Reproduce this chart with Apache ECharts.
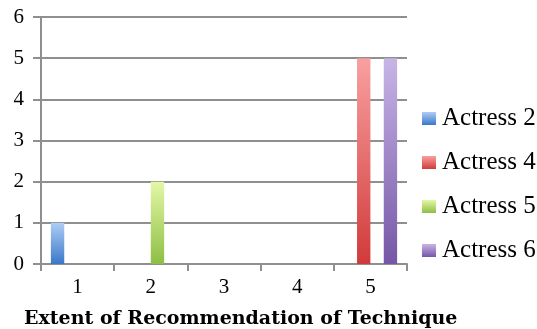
<!DOCTYPE html>
<html>
<head>
<meta charset="utf-8">
<script src="https://cdn.jsdelivr.net/npm/echarts@6/dist/echarts.min.js"></script>
<style>
  html, body { margin: 0; padding: 0; background: #ffffff; }
  #chart { width: 537px; height: 329px; }
</style>
</head>
<body>
<div id="chart"></div>
<script>
// Categories: extent of recommendation (1 = low, 5 = high)
const categories = ['1', '2', '3', '4', '5'];

// Number of responses per actress at each extent
const actress2 = [1, 0, 0, 0, 0];
const actress4 = [0, 0, 0, 0, 5];
const actress5 = [0, 2, 0, 0, 0];
const actress6 = [0, 0, 0, 0, 5];

const seriesNames = ['Actress 2', 'Actress 4', 'Actress 5', 'Actress 6'];
const seriesData = [actress2, actress4, actress5, actress6];

// Vertical shading per series: light top, saturated bottom
const shades = [
  ['#aecdf6', '#3a78c8'],
  ['#f8a0a0', '#d23a3a'],
  ['#e4f7a6', '#8dbf45'],
  ['#c7b5e6', '#7656a6']
];

function shade(pair) {
  return new echarts.graphic.LinearGradient(0, 0, 0, 1, [
    { offset: 0, color: pair[0] },
    { offset: 1, color: pair[1] }
  ]);
}

const chart = echarts.init(document.getElementById('chart'), null, { renderer: 'canvas' });

const axisGrey = '#8f8f8f';
const serif = '"Liberation Serif", "DejaVu Serif", serif';
const wideSerif = '"DejaVu Serif", "Liberation Serif", serif';

chart.setOption({
  animation: false,
  backgroundColor: '#ffffff',
  grid: { left: 41, right: 130, top: 17, bottom: 65 },
  title: {
    text: 'Extent of Recommendation of Technique',
    left: 24,
    top: 310,
    padding: 0,
    textStyle: { fontFamily: wideSerif, fontWeight: 'bold', fontSize: 19, color: '#000' }
  },
  legend: {
    orient: 'vertical',
    left: 422,
    top: 106,
    padding: 0,
    itemWidth: 14,
    itemHeight: 13,
    itemGap: 19,
    icon: 'rect',
    textStyle: { fontFamily: serif, fontSize: 25, color: '#000', lineHeight: 24, padding: [0, 0, 0, 1] },
    data: seriesNames
  },
  xAxis: {
    type: 'category',
    data: categories,
    axisLine: { lineStyle: { color: axisGrey, width: 2 } },
    axisTick: { show: true, length: 7, alignWithLabel: false, lineStyle: { color: axisGrey, width: 2 } },
    axisLabel: { fontFamily: serif, fontSize: 21, color: '#000', margin: 13 },
    splitLine: { show: false }
  },
  yAxis: {
    type: 'value',
    min: 0,
    max: 6,
    interval: 1,
    axisLine: { show: true, lineStyle: { color: axisGrey, width: 2 } },
    axisTick: { show: true, inside: false, length: 8, lineStyle: { color: axisGrey, width: 2 } },
    axisLabel: { fontFamily: serif, fontSize: 21, color: '#000', margin: 17 },
    splitLine: { show: true, lineStyle: { color: axisGrey, width: 2 } }
  },
  series: seriesNames.map((name, i) => ({
    name: name,
    type: 'bar',
    data: seriesData[i],
    barGap: '0%',
    barCategoryGap: '27%',
    itemStyle: { color: shade(shades[i]) }
  }))
});
</script>
</body>
</html>
